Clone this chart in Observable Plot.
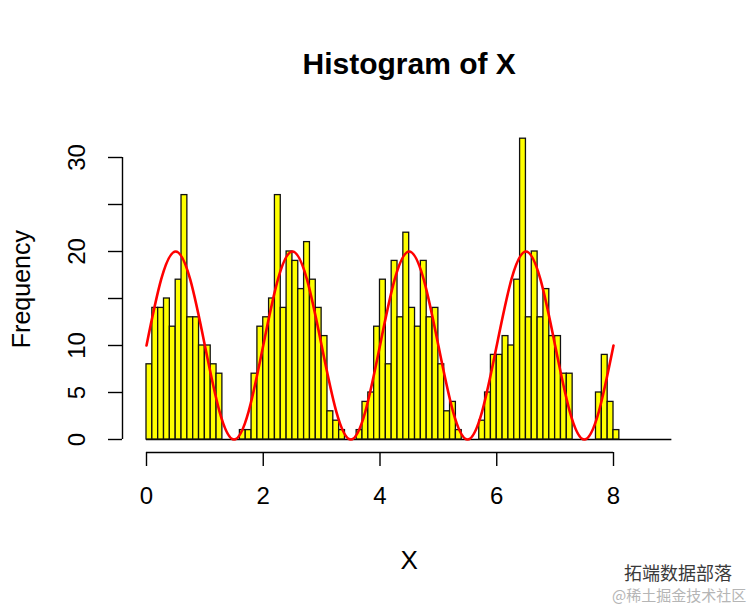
<!DOCTYPE html>
<html><head><meta charset="utf-8">
<script src="https://cdn.jsdelivr.net/npm/d3@7"></script>
<script src="https://cdn.jsdelivr.net/npm/@observablehq/plot@0.6"></script>
<style>
body{margin:0;background:#fff;}
#wrap{position:relative;width:756px;height:606px;overflow:hidden;}
.wm1{position:absolute;left:624px;top:559px;font-family:"Noto Sans CJK SC";font-size:18px;color:#3a3a3a;white-space:nowrap;}
.wm2{position:absolute;left:612px;top:584px;font-family:"Noto Sans CJK SC";font-size:15px;color:#b5b5b5;white-space:nowrap;}
</style></head><body><div id="wrap"></div>
<script>
// histogram counts, bins of width 0.1 starting at 0
const counts = [
  8,14,14,15,12,17,26,13,13,10,10,8,7,
  0,0,0,
  1,1,7,12,13,15,26,14,20,19,16,21,17,14,11,3,2,1,
  0,0,
  1,4,5,12,17,8,19,13,22,14,12,19,13,14,8,3,4,1,
  0,0,0,
  2,5,9,9,11,10,17,32,13,20,13,16,11,11,7,7,
  0,0,0,0,
  5,9,4,1
];
const binStart = 0;
const binWidth = 0.1;
// red curve
const curveX = [0,0.25,0.5,0.75,1,1.25,1.5,1.75,2,2.25,2.5,2.75,3,3.25,3.5,3.75,4,4.25,4.5,4.75,5,5.25,5.5,5.75,6,6.25,6.5,6.75,7,7.25,7.5,7.75,8];
const curveY = [10,17,20,17,10,3,0,3,10,17,20,17,10,3,0,3,10,17,20,17,10,3,0,3,10,17,20,17,10,3,0,3,10];
const xTicks = [0,2,4,6,8];
const yTicks = [0,5,10,15,20,25,30];
const yTickLabels = ["0","5","10","","20","","30"];
const xlim = [0,9];
const ylim = [0,32];
const titleText = "Histogram of X";
const xLabel = "X";
const yLabel = "Frequency";

const bins = counts.map((c,i)=>({x1: +(binStart + i*binWidth).toFixed(2), x2: +(binStart + (i+1)*binWidth).toFixed(2), count: c})).filter(d=>d.count>0);
const curve = curveX.map((x,i)=>({x, y: curveY[i]}));
const font = "'Liberation Sans', Arial, Helvetica, sans-serif";
const xMid = (xlim[0]+xlim[1])/2;
const yMid = (ylim[0]+ylim[1])/2;

const plot = Plot.plot({
  width: 756, height: 606,
  marginLeft: 146, marginRight: 143, marginTop: 157, marginBottom: 167,
  x: {domain: [0, 8], axis: null},
  y: {domain: [0, 30], axis: null},
  style: {fontFamily: font, background: "white", color: "black"},
  marks: [
    Plot.ruleY([0], {x1: xlim[0], x2: xlim[1], stroke: "black", strokeWidth: 1.4}),
    Plot.rect(bins, {x1: "x1", x2: "x2", y1: 0, y2: "count", fill: "#FFFF00", stroke: "#111", strokeWidth: 1.3, inset: 0}),
    Plot.line(curve, {x: "x", y: "y", stroke: "#FF0000", strokeWidth: 2.6, curve: "natural"}),
    Plot.ruleY([0], {x1: xTicks[0], x2: xTicks[xTicks.length-1], dy: 13, stroke: "black", strokeWidth: 1.4}),
    Plot.axisX({ticks: xTicks, tickSize: 14, dy: 13, tickPadding: 20, fontSize: 24, label: null, tickFormat: d => String(d), strokeWidth: 1.4}),
    Plot.ruleX([0], {y1: yTicks[0], y2: yTicks[yTicks.length-1], dx: -24, stroke: "black", strokeWidth: 1.4}),
    Plot.axisY({ticks: yTicks, tickSize: 14, dx: -24, tickRotate: -90, textAnchor: "middle", lineAnchor: "bottom", tickPadding: 24, fontSize: 24, label: null, tickFormat: d => yTickLabels[yTicks.indexOf(d)], strokeWidth: 1.4}),
    Plot.text([{t: titleText, x: xMid}], {x: "x", text: "t", frameAnchor: "top", dy: -93, lineAnchor: "middle", textAnchor: "middle", fontWeight: "bold", fontSize: 30}),
    Plot.text([{t: xLabel, x: xMid}], {x: "x", text: "t", frameAnchor: "bottom", dy: 121, lineAnchor: "middle", textAnchor: "middle", fontSize: 26}),
    Plot.text([{t: yLabel, y: yMid}], {y: "y", text: "t", frameAnchor: "left", dx: -125, rotate: -90, lineAnchor: "middle", textAnchor: "middle", fontSize: 25})
  ]
});
const wrap = document.getElementById("wrap");
wrap.appendChild(plot);
const w1 = document.createElement("div"); w1.className = "wm1"; w1.textContent = "拓端数据部落"; wrap.appendChild(w1);
const w2 = document.createElement("div"); w2.className = "wm2"; w2.textContent = "@稀土掘金技术社区"; wrap.appendChild(w2);
</script>
</body></html>
